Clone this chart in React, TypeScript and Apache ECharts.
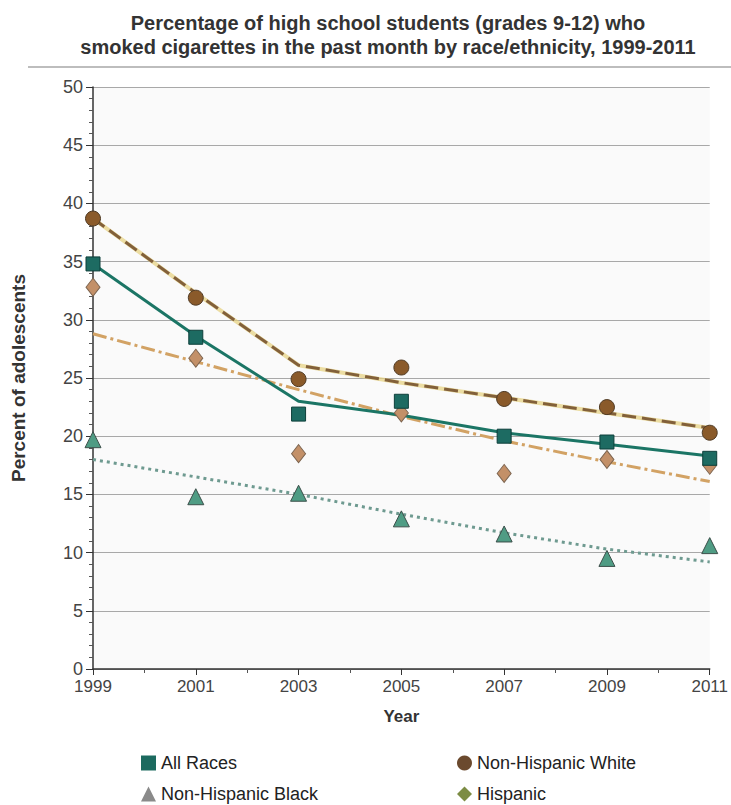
import React, { useEffect, useRef } from "react";
import * as echarts from "echarts";

const years = [1999, 2001, 2003, 2005, 2007, 2009, 2011];
const allRaces = [34.8, 28.5, 21.9, 23.0, 20.0, 19.5, 18.1];
const allRacesTrend = [34.8, 28.6, 23.0, 21.8, 20.3, 19.3, 18.3];
const white = [38.7, 31.9, 24.9, 25.9, 23.2, 22.5, 20.3];
const whiteTrend = [38.7, 32.3, 26.1, 24.6, 23.3, 22.0, 20.7];
const black = [19.7, 14.8, 15.1, 12.9, 11.6, 9.5, 10.6];
const blackTrend = [18.0, 16.5, 15.0, 13.3, 11.7, 10.3, 9.2];
const hispanic = [32.8, 26.7, 18.5, 22.0, 16.8, 18.0, 17.5];
const hispanicTrend = [28.8, 26.4, 24.0, 21.7, 19.6, 17.8, 16.1];

const FONT = "Liberation Sans, Arial, sans-serif";

const pairs = (vals: number[]) => years.map((y, i) => [y, vals[i]]);

export default function App() {
  const ref = useRef<HTMLDivElement>(null);
  useEffect(() => {
    if (!ref.current) return;
    const chart = echarts.init(ref.current, undefined, { renderer: "svg" });
    const legendText = { fontFamily: FONT, fontSize: 18, color: "#222" };
    const mkLegend = (name: string, icon: string, color: string, left: number, top: number) => ({
      left,
      top,
      itemWidth: 15,
      itemHeight: 15,
      selectedMode: false,
      textStyle: legendText,
      data: [{ name, icon, itemStyle: { color, borderWidth: 0, opacity: 1 } }],
    });
    chart.setOption({
      animation: false,
      backgroundColor: "#ffffff",
      title: {
        text: "Percentage of high school students (grades 9-12) who\nsmoked cigarettes in the past month by race/ethnicity, 1999-2011",
        left: 383,
        textAlign: "center",
        top: 6,
        textStyle: { fontFamily: FONT, fontSize: 20, fontWeight: "bold", color: "#333", lineHeight: 24 },
      },
      graphic: [
        { type: "line", shape: { x1: 28, y1: 67, x2: 731, y2: 67 }, style: { stroke: "#bdbdbd", lineWidth: 2 } },
      ],
      legend: [
        mkLegend("All Races", "rect", "#1c6a5f", 136, 749),
        mkLegend("Non-Hispanic White", "circle", "#6b4a2e", 452, 749),
        mkLegend("Non-Hispanic Black", "triangle", "#8a8a8a", 136, 780),
        mkLegend("Hispanic", "diamond", "#7c8c44", 452, 780),
      ],
      grid: { left: 93, right: 21, top: 87, bottom: 136, show: true, backgroundColor: "#fafafa", borderWidth: 0 },
      xAxis: {
        type: "value",
        min: 1999,
        max: 2011,
        interval: 2,
        name: "Year",
        nameLocation: "middle",
        nameGap: 47,
        nameTextStyle: { fontFamily: FONT, fontSize: 17, fontWeight: "bold", color: "#333", verticalAlign: "middle" },
        axisLine: { show: true, lineStyle: { color: "#333", width: 1.5 } },
        axisTick: { show: true, length: 6, lineStyle: { color: "#333" } },
        minorTick: { show: true, splitNumber: 2, length: 4, lineStyle: { color: "#555" } },
        splitLine: { show: false },
        axisLabel: { fontFamily: FONT, fontSize: 17, color: "#444", margin: 9, formatter: (v: number) => String(v) },
      },
      yAxis: {
        type: "value",
        min: 0,
        max: 50,
        interval: 5,
        name: "Percent of adolescents",
        nameLocation: "middle",
        nameGap: 75,
        nameTextStyle: { fontFamily: FONT, fontSize: 19, fontWeight: "bold", color: "#333", verticalAlign: "middle" },
        axisLine: { show: true, lineStyle: { color: "#333", width: 1.5 } },
        axisTick: { show: true, length: 7, lineStyle: { color: "#333" } },
        minorTick: { show: true, splitNumber: 5, length: 4, lineStyle: { color: "#555" } },
        splitLine: { show: true, lineStyle: { color: "#a8a8a8", width: 1 } },
        axisLabel: { fontFamily: FONT, fontSize: 18, color: "#444", margin: 10 },
      },
      series: [
        {
          name: "Hispanic trend",
          type: "line",
          data: pairs(hispanicTrend),
          symbol: "none",
          lineStyle: { color: "#d2a264", width: 3, type: [14, 4, 3, 4] },
          z: 2,
        },
        {
          name: "Black trend",
          type: "line",
          data: pairs(blackTrend),
          symbol: "none",
          lineStyle: { color: "#6e9a90", width: 3, type: [3, 4] },
          z: 2,
        },
        {
          name: "White trend glow",
          type: "line",
          data: pairs(whiteTrend),
          symbol: "none",
          lineStyle: { color: "#e6d07c", width: 4, opacity: 0.7 },
          z: 2,
        },
        {
          name: "White trend",
          type: "line",
          data: pairs(whiteTrend),
          symbol: "none",
          lineStyle: { color: "#82603a", width: 3, type: [14, 6] },
          z: 3,
        },
        {
          name: "All Races trend",
          type: "line",
          data: pairs(allRacesTrend),
          symbol: "none",
          lineStyle: { color: "#1b7565", width: 3 },
          z: 3,
        },
        {
          name: "Non-Hispanic Black",
          type: "scatter",
          data: pairs(black),
          symbol: "triangle",
          symbolSize: 16,
          itemStyle: { color: "#4f9c84", borderColor: "#3c4f4a", borderWidth: 1, opacity: 1 },
          z: 5,
        },
        {
          name: "Hispanic",
          type: "scatter",
          data: pairs(hispanic),
          symbol: "diamond",
          symbolSize: [14, 18],
          itemStyle: { color: "#c39068", borderColor: "#7d6550", borderWidth: 1, opacity: 1 },
          z: 5,
        },
        {
          name: "Non-Hispanic White",
          type: "scatter",
          data: pairs(white),
          symbol: "circle",
          symbolSize: 15,
          itemStyle: { color: "#8a5a2a", borderColor: "#4f3a24", borderWidth: 1, opacity: 1 },
          z: 5,
        },
        {
          name: "All Races",
          type: "scatter",
          data: pairs(allRaces),
          symbol: "rect",
          symbolSize: 14,
          itemStyle: { color: "#1d6b62", borderColor: "#0d3f3a", borderWidth: 1, opacity: 1 },
          z: 6,
        },
      ],
    });
    return () => chart.dispose();
  }, []);
  return <div ref={ref} style={{ width: 731, height: 805, position: "absolute", left: 0, top: 0 }} />;
}
